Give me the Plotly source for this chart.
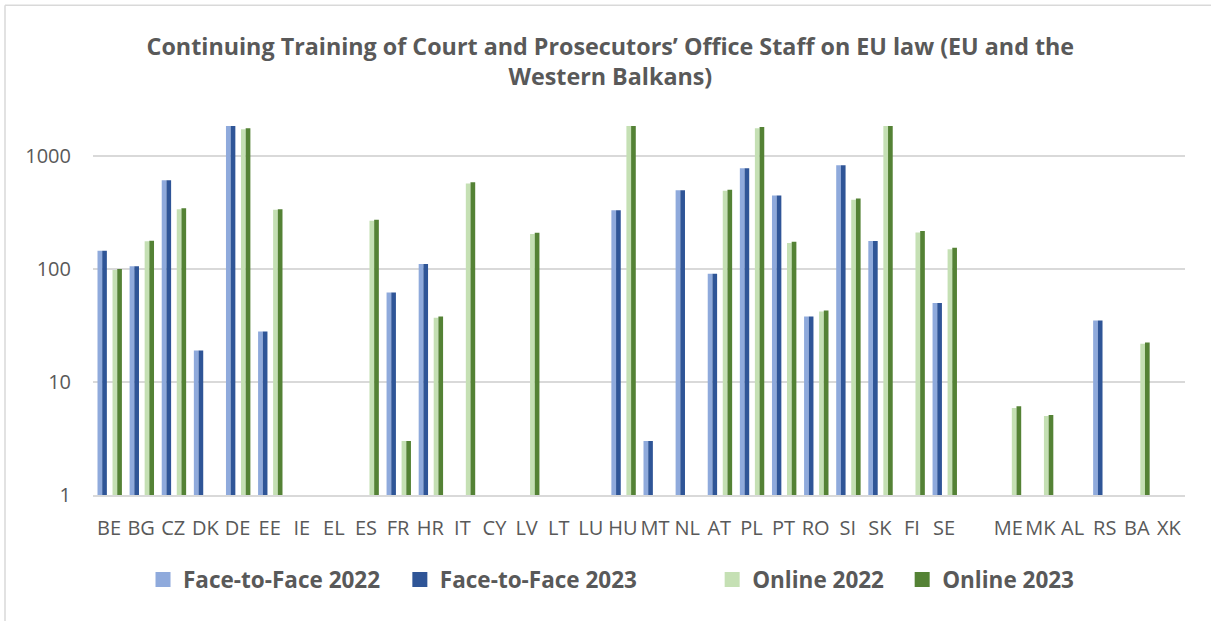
import plotly.graph_objects as go

categories = ["BE", "BG", "CZ", "DK", "DE", "EE", "IE", "EL", "ES", "FR", "HR", "IT", "CY", "LV",
              "LT", "LU", "HU", "MT", "NL", "AT", "PL", "PT", "RO", "SI", "SK", "FI", "SE", " ",
              "ME", "MK", "AL", "RS", "BA", "XK"]

N = None
f2f_2022 = [145, 106, 611, 19, 1900, 28, N, N, N, 62, 111, N, N, N,
            N, N, 332, 3, 499, 91, 780, 447, 38, 829, 177, N, 50, N,
            N, N, N, 35, N, N]
f2f_2023 = [145, 106, 611, 19, 1900, 28, N, N, N, 62, 111, N, N, N,
            N, N, 332, 3, 499, 91, 780, 447, 38, 829, 177, N, 50, N,
            N, N, N, 35, N, N]
online_2022 = [98, 176, 339, N, 1723, 334, N, N, 267, 3, 37, 571, N, 204,
               N, N, 1900, N, N, 492, 1760, 170, 42, 410, 1900, 211, 150, N,
               5.9, 5.0, N, N, 21.8, N]
online_2023 = [100, 178, 346, N, 1760, 339, N, N, 273, 3, 38, 587, N, 210,
               N, N, 1900, N, N, 502, 1806, 174, 43, 421, 1900, 217, 154, N,
               6.1, 5.1, N, N, 22.4, N]

series_names = ["Face-to-Face 2022", "Face-to-Face 2023", "Online 2022", "Online 2023"]
series_values = [f2f_2022, f2f_2023, online_2022, online_2023]
colors = ["#8FAADC", "#2F5597", "#C5E0B4", "#548235"]
offsets = [-0.36, -0.214, 0.108, 0.254]
legend_ids = ["legend", "legend2", "legend3", "legend4"]

ytickvals = [1, 10, 100, 1000]
yticktext = ["1", "10", "100", "1000"]

fig = go.Figure()
for name, vals, col, off in zip(series_names, series_values, colors, offsets):
    fig.add_trace(go.Bar(x=categories, y=vals, name=name, marker_color=col,
                         marker_line_width=0, width=0.146, offset=off,
                         showlegend=False, hoverinfo="x+y+name"))

# legend proxies (larger square symbols, one legend per entry)
for name, col, lid in zip(series_names, colors, legend_ids):
    fig.add_trace(go.Scatter(x=[None], y=[None], mode="markers", name=name,
                             marker=dict(symbol="square", size=15, color=col),
                             legend=lid, showlegend=True))

grey = "#595959"
leg_common = dict(orientation="h", yanchor="middle", y=-0.23, xanchor="left",
                  font=dict(family="Open Sans", size=22.5, color=grey, weight="bold"),
                  bgcolor="rgba(0,0,0,0)", borderwidth=0)

# chart-area border (left + top edges visible in the frame), in pixel-derived paper units
bx0 = (5 - 93) / 1092
by1 = (495 - 4) / 370
bx1 = (1211 - 93) / 1092

fig.update_layout(
    barmode="overlay",
    width=1211, height=621,
    margin=dict(l=93, r=26, t=126, b=126),
    paper_bgcolor="white", plot_bgcolor="white",
    title=dict(text="Continuing Training of Court and Prosecutors’ Office Staff on EU law (EU and the<br>Western Balkans)",
               x=0.504, xref="container", xanchor="center",
               y=1 - 55 / 621, yref="container", yanchor="middle",
               font=dict(family="Open Sans", size=23.3, color=grey, weight="bold")),
    legend=dict(x=0.0458, **leg_common),
    legend2=dict(x=0.281, **leg_common),
    legend3=dict(x=0.567, **leg_common),
    legend4=dict(x=0.741, **leg_common),
    xaxis=dict(type="category", showgrid=False, showline=True, linecolor="#D9D9D9", linewidth=1.5,
               tickangle=0, ticks="", ticklabelstandoff=14,
               tickfont=dict(family="Open Sans", size=20, color=grey),
               categoryorder="array", categoryarray=categories),
    yaxis=dict(type="log", range=[0, 3.266], tickvals=ytickvals, ticktext=yticktext,
               showgrid=True, gridcolor="#D9D9D9", gridwidth=1.5, zeroline=False,
               showline=False, ticks="", ticklabelstandoff=21,
               tickfont=dict(family="Open Sans", size=20, color=grey)),
    shapes=[
        dict(type="line", xref="paper", yref="paper", x0=bx0, x1=bx0, y0=-0.4, y1=by1,
             line=dict(color="#D9D9D9", width=1.5), layer="below"),
        dict(type="line", xref="paper", yref="paper", x0=bx0, x1=bx1, y0=by1, y1=by1,
             line=dict(color="#D9D9D9", width=1.5), layer="below"),
    ],
)

fig.write_html("out.html", config={"displayModeBar": False},
               post_script="document.body.style.margin='0';document.body.style.overflow='hidden';")
